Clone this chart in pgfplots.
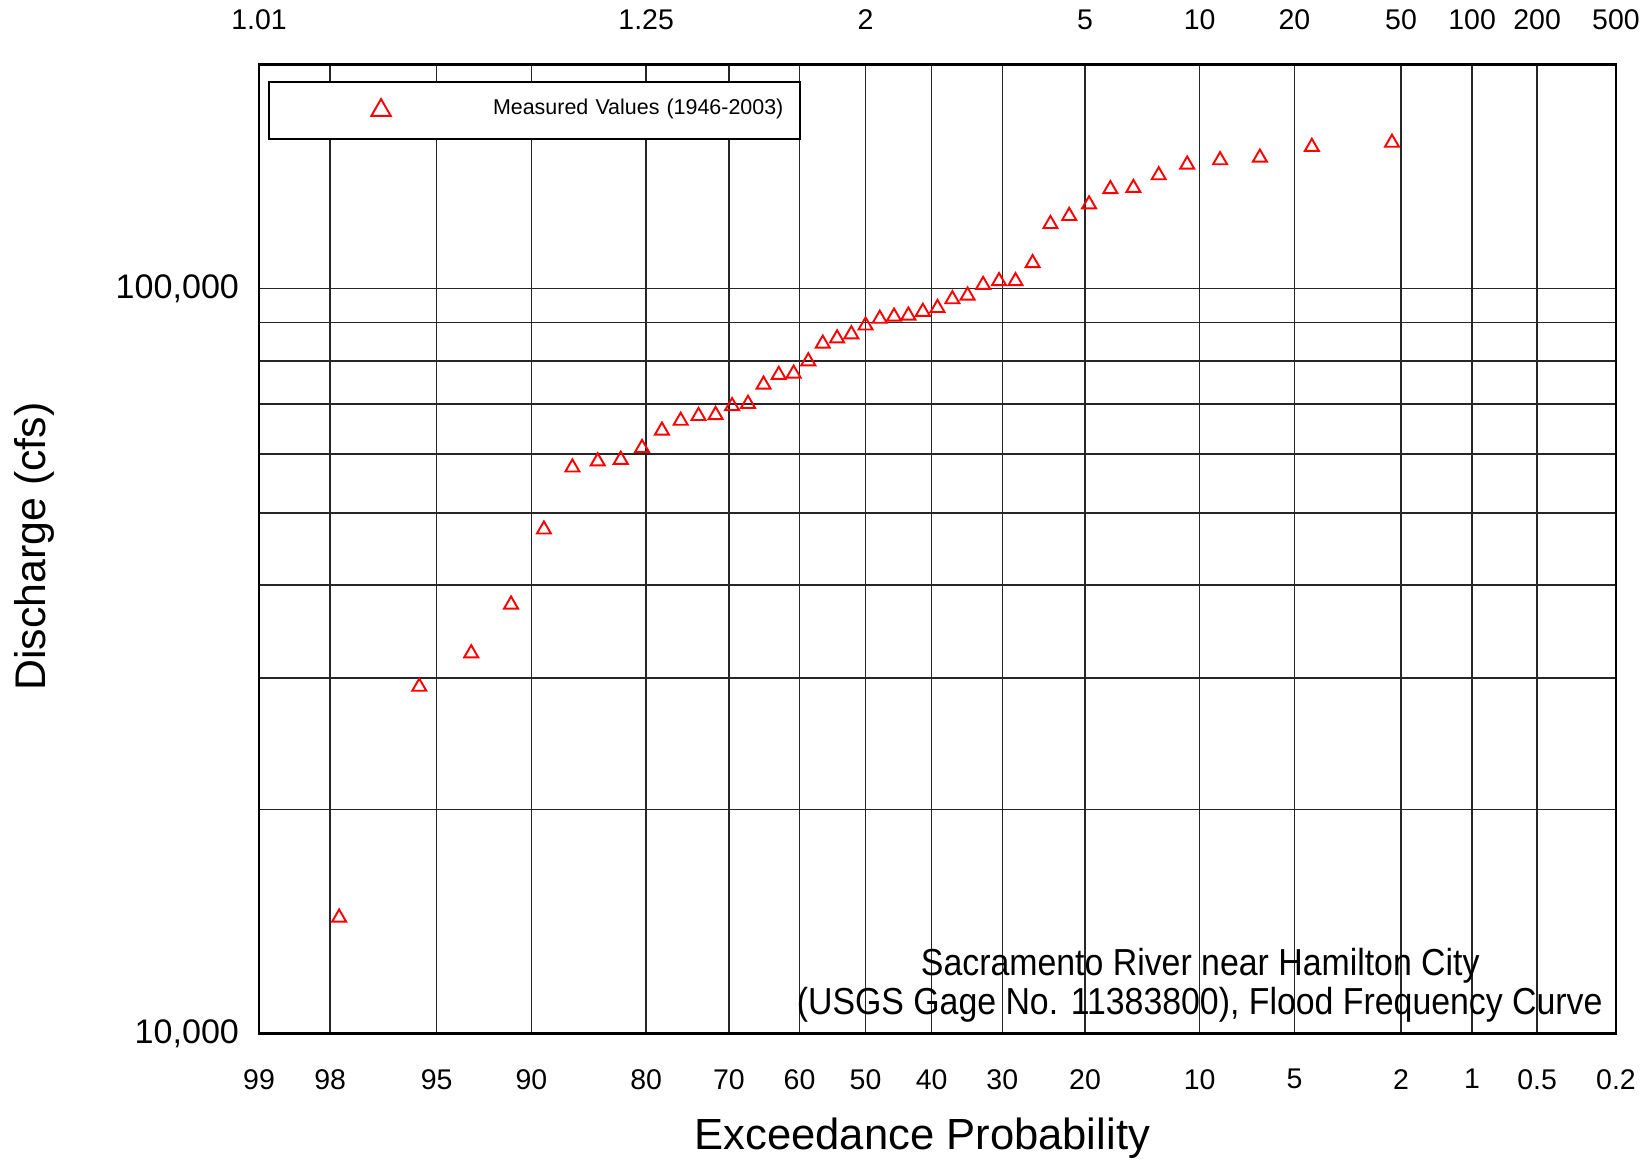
\documentclass[border=0pt]{standalone}
\usepackage{fontspec}
\setmainfont{Liberation Sans}
\newfontfamily\annfont[FakeStretch=0.9]{Liberation Sans}
\usepackage{pgfplots}
\pgfplotsset{compat=1.18}
\usepackage{pgfplotstable}

% x = standard normal quantile of (1 - exceedance), y = peak discharge (cfs)
\pgfplotstableread{
z        Q
2.0190   158000
1.7117   156000
1.5124   150900
1.3597   149700
1.2335   147700
1.1244   142900
1.0272   137400
0.9389   136900
0.8572   130600
0.7810   126000
0.7091   122900
0.6407   108900
0.5751   103000
0.5119   103000
0.4508   101800
0.3912   98500
0.3330   97400
0.2759   94800
0.2197   93700
0.1642   92600
0.1092   92300
0.0545   91700
0.0000   89800
-0.0545  87400
-0.1092  86300
-0.1642  84900
-0.2197  80400
-0.2759  77400
-0.3330  77100
-0.3912  74800
-0.4508  70500
-0.5119  70000
-0.5751  68100
-0.6407  67900
-0.7091  66900
-0.7810  64900
-0.8572  61500
-0.9389  59300
-1.0272  59000
-1.1244  57900
-1.2335  47800
-1.3597  37900
-1.5124  32600
-1.7117  29400
-2.0190  14400
}\peaks

\begin{document}
\begin{tikzpicture}
% return period labels along the top
\begin{axis}[
    at={(0,0)}, anchor=south west,
    width=13.57cm, height=9.69cm, scale only axis,
    xmin=-2.3264, xmax=2.8782, ymin=0, ymax=1,
    axis x line*=top, axis y line=none,
    axis line style={draw=none},
    xtick={-2.3263,-0.8416,0,0.8416,1.2816,1.6449,2.0537,2.3263,2.5758,2.8781},
    xticklabels={1.01,1.25,2,5,10,20,50,100,200,500},
    major tick length=0pt,
    xticklabel style={font=\fontsize{8.1}{9}\selectfont, anchor=south, inner sep=0pt, yshift=9.8pt},
]
\end{axis}

\begin{axis}[
    name=ax, at={(0,0)}, anchor=south west,
    width=13.57cm, height=9.69cm, scale only axis,
    ymode=log,
    xmin=-2.3264, xmax=2.8782,
    ymin=10000, ymax=200000,
    xtick={-2.3263,-2.0537,-1.6449,-1.2816,-0.8416,-0.5244,-0.2533,0,0.2533,0.5244,0.8416,1.2816,1.6449,2.0537,2.3263,2.5758,2.8781},
    xticklabels={99,98,95,90,80,70,60,50,40,30,20,10,5,2,1,0.5,0.2},
    ytick={10000,100000},
    yticklabels={{10,000},{100,000}},
    minor ytick={20000,30000,40000,50000,60000,70000,80000,90000},
    xmajorgrids, ymajorgrids, yminorgrids,
    major grid style={black!85, line width=0.4pt},
    minor grid style={black!85, line width=0.4pt},
    major tick length=0pt, minor tick length=0pt,
    axis line style={line width=0.7pt},
    xticklabel style={font=\fontsize{8.1}{9}\selectfont, anchor=north, inner sep=0pt, yshift=-10pt},
    yticklabel style={font=\fontsize{9.7}{11}\selectfont, anchor=east, inner sep=0pt, xshift=-5.5pt},
    legend cell align=left,
    legend style={at={(0.00685,0.98266)}, anchor=north west,
        draw=black, line width=0.6pt, fill=white, inner sep=0pt,
        font=\fontsize{6.1}{7}\selectfont,
        nodes={inner sep=0pt, text width=3.07cm, align=left, yshift=-0.6pt}},
    legend image code/.code={
        \path[draw=none, fill=none] (-1.117cm,-0.3155cm) rectangle (1.12cm,0.252cm);
        \draw[#1, mark size=3.2pt, mark options={yshift=-0.8pt}] plot coordinates {(0cm,0cm)};
    },
]
\addplot[only marks, mark=triangle, mark size=2.3pt, red, line width=0.55pt,
    mark options={solid, yshift=-0.58pt}] table[x=z, y=Q] {\peaks};
\addlegendentry{Measured Values (1946-2003)}
\end{axis}

\node[anchor=base, font=\fontsize{12.4}{14}\selectfont] at (6.633,-1.155) {Exceedance Probability};
\node[anchor=base, rotate=90, font=\fontsize{12.2}{14}\selectfont] at (-2.137,4.87) {Discharge (cfs)};

\node[anchor=base, font=\annfont\fontsize{10.7}{12}\selectfont] at (9.413,0.578) {Sacramento River near Hamilton City};
\node[anchor=base, font=\annfont\fontsize{10.7}{12}\selectfont] at (9.407,0.188) {(USGS Gage No. 11383800), Flood Frequency Curve};

\pgfresetboundingbox
\path[use as bounding box] (-2.59,-1.255) rectangle (13.89,10.335);
\end{tikzpicture}
\end{document}
